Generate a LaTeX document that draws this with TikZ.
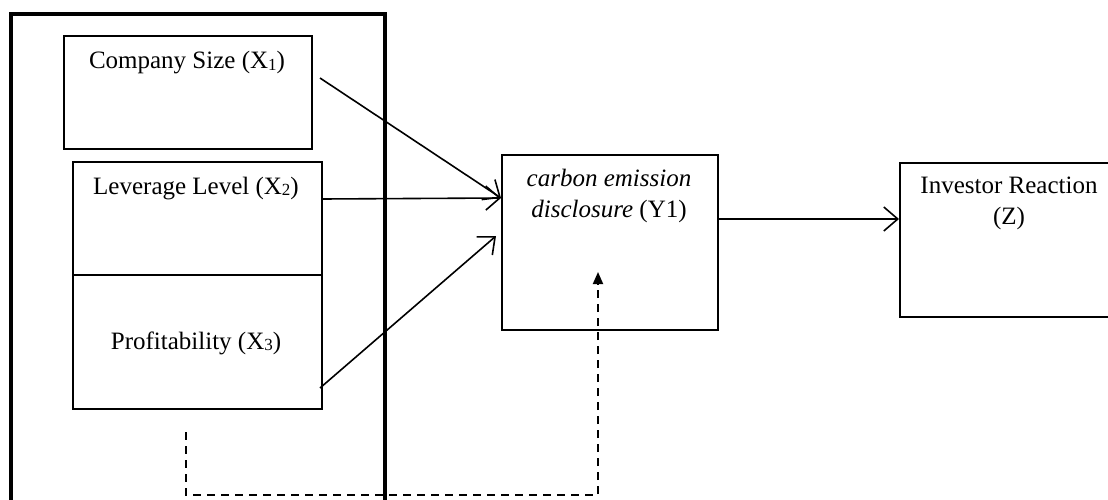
\documentclass[tikz,border=0pt]{standalone}
\usepackage{fontspec}
\setmainfont{Liberation Serif}
\usetikzlibrary{arrows.meta}
\newcommand{\subx}[1]{\raisebox{-1.5pt}{\fontsize{17}{17}\selectfont #1}}
\tikzset{
  box/.style={draw, line width=1.6pt, inner sep=0pt, anchor=north west},
  lbl/.style={font=\fontsize{25}{31}\selectfont, inner sep=0pt, align=center, anchor=base},
  arr/.style={line width=1.6pt, -{Straight Barb[length=14pt,width=24pt,line width=1.6pt]}},
  darr/.style={line width=1.8pt, dash pattern=on 8pt off 6pt, -{Triangle[length=12pt,width=10pt]}},
  frameline/.style={line width=4pt}
}
\begin{document}
\begin{tikzpicture}[x=1pt,y=-1pt]
\useasboundingbox (0,0) rectangle (1108,500);
\clip (0,0) rectangle (1108,500);
% outer frame
\draw[frameline] (11,14) rectangle (385,540);
% boxes
\node[box, minimum width=248pt, minimum height=113pt] (cs) at (63,35) {};
\node[box, minimum width=249pt, minimum height=113pt] (lev) at (72,161) {};
\node[box, minimum width=249pt, minimum height=134pt] (prof) at (72,274) {};
\node[box, minimum width=216pt, minimum height=175pt] (ced) at (501,154) {};
\node[box, minimum width=230pt, minimum height=154pt] (ir) at (899,162) {};
% labels
\node[lbl] (cst) at (187,69) {Company Size (X\subx{1})};
\node[lbl] (levt) at (196,194) {Leverage Level (X\subx{2})};
\node[lbl] (proft) at (196,349) {Profitability (X\subx{3})};
\node[lbl] (cedt) at (609,217) {\textit{carbon emission}\\\textit{disclosure} (Y1)};
\node[lbl] (irt) at (1009,224) {Investor Reaction\\(Z)};
% connector points
\coordinate (cs-out) at (320,78);
\coordinate (lev-out) at (lev.east |- 0,199);
\coordinate (prof-out) at (320,388);
\coordinate (ced-in) at (ced.west |- 0,198);
\coordinate (ced-in2) at (496,236);
\coordinate (ced-out) at (ced.east |- 0,219);
\coordinate (ir-in) at (ir.west |- 0,219);
\coordinate (d-start) at (186,432);
\coordinate (d-corner) at (186,495);
\coordinate (d-end) at (598,272);
% connectors
\draw[arr] (cs-out) -- (ced-in);
\draw[arr] (lev-out) -- (ced-in);
\draw[arr] (prof-out) -- (ced-in2);
\draw[arr] (ced-out) -- (ir-in);
\draw[darr] (d-start) -- (d-corner) -| (d-end);
\end{tikzpicture}
\end{document}
